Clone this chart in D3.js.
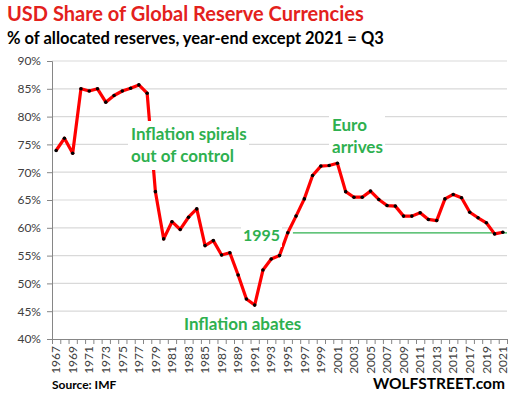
<!DOCTYPE html>
<html>
<head>
<meta charset="utf-8">
<script src="https://d3js.org/d3.v7.min.js"></script>
<style>
  body { margin: 0; background: #fff; }
  text { font-family: Lato, "Noto Sans", sans-serif; }
  .title { fill: #e3211c; font-size: 20px; font-weight: bold; }
  .sub-title { fill: #000; font-size: 16.5px; font-weight: bold; }
  .note { fill: #2eb04f; font-size: 17px; font-weight: bold; }
  .tick text { fill: #404040; font-size: 12px; }
  .source { font-size: 12px; font-weight: bold; }
  .brand { font-size: 15.5px; font-weight: bold; }
</style>
</head>
<body>
<div id="chart"></div>
<script>
var years = d3.range(1967, 2022);
var usdShare = [
  73.9, 76.1, 73.4, 85.0, 84.6, 85.0, 82.6, 83.8, 84.6, 85.1,
  85.7, 84.2, 66.5, 58.0, 61.1, 59.7, 61.9, 63.4, 56.8, 57.7,
  55.1, 55.5, 51.5, 47.2, 46.1, 52.4, 54.4, 55.0, 59.1, 62.1,
  65.2, 69.4, 71.1, 71.2, 71.6, 66.5, 65.5, 65.5, 66.6, 65.1,
  64.0, 63.9, 62.1, 62.1, 62.7, 61.5, 61.3, 65.2, 66.0, 65.4,
  62.8, 61.8, 60.9, 58.9, 59.2
];
var yTicks = [40, 45, 50, 55, 60, 65, 70, 75, 80, 85, 90];
var yearLabels = years.filter(function(y) { return (y - 1967) % 2 === 0; });

var width = 526, height = 394;
var plotLeft = 52, plotRight = 507, plotTop = 61, plotBottom = 339;

var svg = d3.select("#chart").append("svg")
  .attr("width", width)
  .attr("height", height);

var x = d3.scaleBand().domain(years).range([plotLeft, plotRight]).padding(0);
var xEdge = d3.scaleLinear().domain([0, years.length]).range([plotLeft, plotRight]);
var y = d3.scaleLinear().domain([40, 90]).range([plotBottom, plotTop]);

// gridlines
svg.append("g")
  .selectAll("line")
  .data(yTicks.slice(1))
  .enter().append("line")
  .attr("x1", plotLeft).attr("x2", plotRight)
  .attr("y1", function(d) { return y(d); })
  .attr("y2", function(d) { return y(d); })
  .attr("stroke", "#d9d9d9")
  .attr("stroke-width", 1.2);

// y axis
var yAxis = svg.append("g")
  .attr("transform", "translate(" + plotLeft + ",0)")
  .call(d3.axisLeft(y).tickValues(yTicks).tickSize(5).tickPadding(6)
    .tickFormat(function(d) { return d + "%"; }));
yAxis.selectAll("path, line").attr("stroke", "#868686");

// x axis: tick marks between categories
var xTicks = svg.append("g")
  .attr("transform", "translate(0," + plotBottom + ")")
  .call(d3.axisBottom(xEdge).tickValues(d3.range(0, years.length + 1)).tickSize(5).tickFormat(""));
xTicks.selectAll("path, line").attr("stroke", "#868686");

// x labels
var xLabels = svg.append("g")
  .attr("transform", "translate(0," + plotBottom + ")")
  .call(d3.axisBottom(x).tickValues(yearLabels).tickSize(0).tickPadding(0));
xLabels.select(".domain").remove();
xLabels.selectAll("text")
  .attr("transform", "rotate(-90)")
  .attr("text-anchor", "end")
  .attr("x", -7)
  .attr("y", 0)
  .attr("dy", "0.35em");

// 1995 reference line
var i1995 = years.indexOf(1995);
svg.append("line")
  .attr("x1", x(1996) + 1)
  .attr("x2", plotRight)
  .attr("y1", y(usdShare[i1995]))
  .attr("y2", y(usdShare[i1995]))
  .attr("stroke", "#2eb04f")
  .attr("stroke-width", 1.2);

// line
var line = d3.line()
  .x(function(d, i) { return x(years[i]) + x.bandwidth() / 2; })
  .y(function(d) { return y(d); });

svg.append("path")
  .datum(usdShare)
  .attr("d", line)
  .attr("fill", "none")
  .attr("stroke", "#ff0000")
  .attr("stroke-width", 3.2)
  .attr("stroke-linejoin", "round");

svg.append("g")
  .selectAll("circle")
  .data(usdShare)
  .enter().append("circle")
  .attr("cx", function(d, i) { return x(years[i]) + x.bandwidth() / 2; })
  .attr("cy", function(d) { return y(d); })
  .attr("r", 1.8)
  .attr("fill", "#000");

// annotations with white boxes
var notes = [
  { lines: ["Inflation spirals", "out of control"], x: 131, y: 140, box: [128, 121, 121, 49], size: 17 },
  { lines: ["Euro", "arrives"], x: 332, y: 131, box: [329, 110, 56, 50], size: 17 },
  { lines: ["1995"], x: 243, y: 241, box: [241, 224, 41, 23], size: 16 },
  { lines: ["Inflation abates"], x: 184, y: 330, box: [181, 314, 124, 22], size: 17 }
];
notes.forEach(function(n) {
  svg.append("rect")
    .attr("x", n.box[0]).attr("y", n.box[1])
    .attr("width", n.box[2]).attr("height", n.box[3])
    .attr("fill", "#fff");
  n.lines.forEach(function(t, k) {
    svg.append("text")
      .attr("class", "note")
      .style("font-size", n.size + "px")
      .attr("x", n.x)
      .attr("y", n.y + k * 22)
      .text(t);
  });
});

// titles
svg.append("text").attr("class", "title").attr("x", 7).attr("y", 21)
  .text("USD Share of Global  Reserve Currencies");
svg.append("text").attr("class", "sub-title").attr("x", 7).attr("y", 44)
  .text("% of allocated reserves, year-end except 2021 = Q3");
svg.append("text").attr("class", "source").attr("x", 52).attr("y", 389)
  .text("Source: IMF");
svg.append("text").attr("class", "brand").attr("x", 505).attr("y", 389)
  .attr("text-anchor", "end")
  .text("WOLFSTREET.com");
</script>
</body>
</html>
